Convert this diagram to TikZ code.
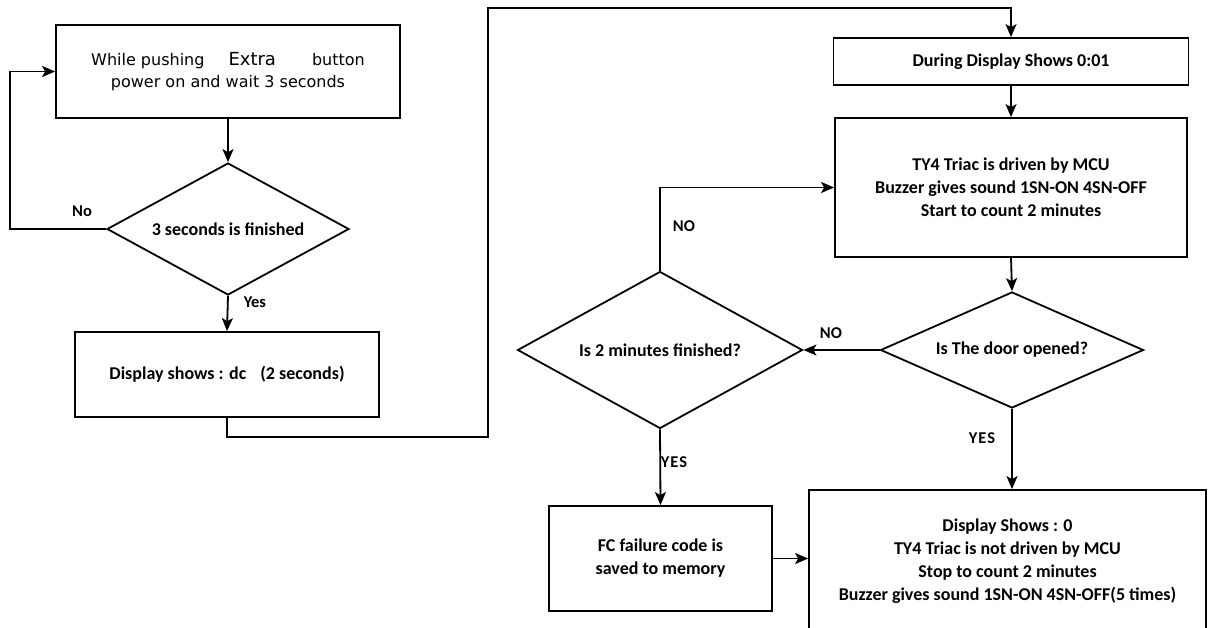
\documentclass[tikz,border=0pt]{standalone}
\usepackage{fontspec}
\setmainfont{Carlito}
\newfontfamily\dejavu{DejaVu Sans}
\usetikzlibrary{shapes.geometric,arrows.meta}
\begin{document}
\begin{tikzpicture}[x=1pt,y=-1pt,
  line width=1.8pt,
  every node/.style={font=\bfseries\fontsize{18}{23}\selectfont},
  box/.style={draw, rectangle, inner sep=0pt, align=center},
  dia/.style={draw, diamond, inner sep=0pt, align=center},
  arr/.style={-{Stealth[length=13pt,width=11pt,inset=3pt]}},
  lbl/.style={font=\bfseries\fontsize{16.5}{18}\selectfont}]
\useasboundingbox (0,0) rectangle (1210,627);
\clip (0,0) rectangle (1210,627);
\fill[white] (0,0) rectangle (1210,627);

\node[box, minimum width=344pt, minimum height=93pt, font=\dejavu\fontsize{16}{22}\selectfont] (b1) at (228,71.5)
  {While pushing\hspace{24pt}{\fontsize{18}{22}\selectfont Extra}\hspace{36pt}button\\power on and wait 3 seconds};
\node[dia, shape aspect=1.83, minimum width=242pt, minimum height=132pt] (d1) at (228,229) {3 seconds is finished};
\node[box, minimum width=304pt, minimum height=85pt] (b2) at (227,374.5) {Display shows : dc\hspace{14pt}(2 seconds)};
\node[box, minimum width=355pt, minimum height=47pt] (bd) at (1011,61.5) {During Display Shows 0:01};
\node[box, minimum width=352pt, minimum height=139pt] (bt) at (1011,187.5)
  {TY4 Triac is driven by MCU\\Buzzer gives sound 1SN-ON 4SN-OFF\\Start to count 2 minutes};
\node[dia, shape aspect=2.27, minimum width=263pt, minimum height=116pt] (d3) at (1012,350) {Is The door opened?};
\node[dia, shape aspect=1.82, minimum width=285pt, minimum height=157pt] (d2) at (660,350) {Is 2 minutes finished?};
\node[box, minimum width=223pt, minimum height=105pt] (fc) at (660.5,558.5) {FC failure code is\\saved to memory};
\node[box, minimum width=397pt, minimum height=142pt] (out) at (1007.5,561)
  {Display Shows : 0\\TY4 Triac is not driven by MCU\\Stop to count 2 minutes\\Buzzer gives sound 1SN-ON 4SN-OFF(5 times)};

\coordinate (l1) at (10,229);
\coordinate (r1) at (488,437);
\coordinate (r2) at (1011,8);

\draw[arr] (b1.south) -- (d1.north);
\draw[arr] (d1.west) -- (l1) |- (b1.west);
\draw[arr] (d1.south) -- (b2.north);
\draw[arr] (b2.south) |- (r1) |- (r2) -- (bd.north);
\draw[arr] (bd.south) -- (bt.north);
\draw[arr] (bt.south) -- (d3.north);
\draw[arr] (d3.west) -- (d2.east);
\draw[arr] (d3.south) -- (d3.south |- out.north);
\draw[arr] (d2.south) -- (fc.north);
\draw[arr] (d2.north) |- (bt.west);
\draw[arr] (fc.east) -- (fc.east -| out.west);

\node[lbl] (lno1) at (82,211) {No};
\node[lbl] (lyes1) at (255,302) {Yes};
\node[lbl] (lno2) at (684,226) {NO};
\node[lbl] (lno3) at (831,333) {NO};
\node[lbl] (lyes2) at (674,462) {Y\kern1pt E\kern1pt S};
\node[lbl] (lyes3) at (982,438) {Y\kern1pt E\kern1pt S};
\end{tikzpicture}
\end{document}
